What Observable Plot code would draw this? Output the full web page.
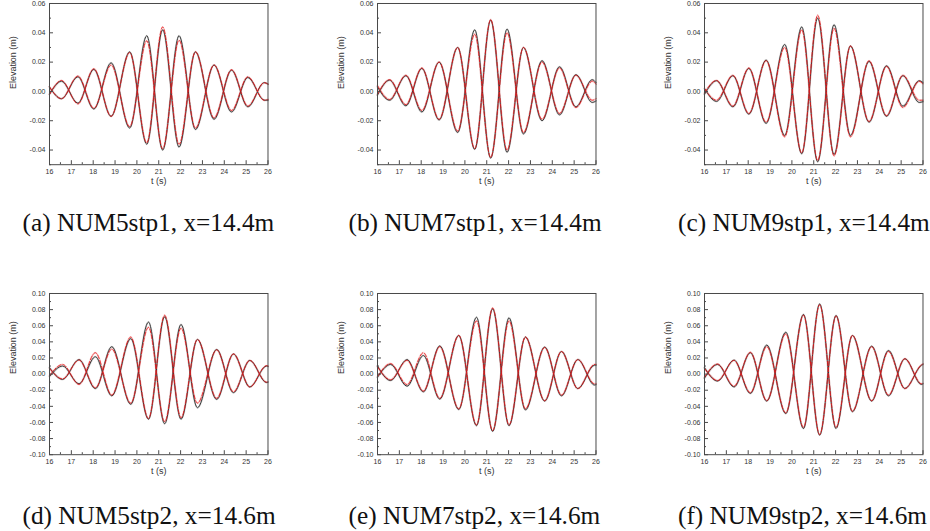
<!DOCTYPE html>
<html><head><meta charset="utf-8">
<script src="https://cdn.jsdelivr.net/npm/d3@7"></script>
<script src="https://cdn.jsdelivr.net/npm/@observablehq/plot@0.6"></script>
<style>
html,body{margin:0;padding:0;background:#fff;}
#root{position:relative;width:930px;height:531px;overflow:hidden;background:#fff;}
.panel{position:absolute;}
#caps{position:absolute;left:0;top:0;}
</style></head><body><div id="root"></div>
<script>
// ---------- data ----------
const tRow1 = [16, 16.55, 17.3, 18.03, 18.82, 19.67, 20.45, 21.18, 21.93, 22.68, 23.53, 24.33, 25.08, 25.83, 26];
const tRow2 = [16, 16.6, 17.35, 18.1, 18.85, 19.72, 20.53, 21.27, 22.02, 22.77, 23.65, 24.42, 25.17, 25.93, 26];

// panel (a)
const aCrestExp = [-0.002, 0.007, -0.008, 0.015, -0.017, 0.027, -0.036, 0.042, -0.038, 0.027, -0.019, 0.0145, -0.0105, 0.006, 0.005];
const aCrestNum = [-0.002, 0.0075, -0.0085, 0.0155, -0.017, 0.0265, -0.035, 0.044, -0.036, 0.027, -0.018, 0.0148, -0.010, 0.006, 0.005];
const aTroughExp = [0.003, -0.005, 0.010, -0.012, 0.0195, -0.025, 0.038, -0.040, 0.038, -0.026, 0.018, -0.014, 0.0095, -0.006, -0.006];
const aTroughNum = [0.003, -0.005, 0.0105, -0.0115, 0.018, -0.024, 0.0345, -0.039, 0.035, -0.025, 0.018, -0.013, 0.010, -0.006, -0.0055];
// panel (b)
const bCrestExp = [-0.0025, 0.0077, -0.0098, 0.0157, -0.0195, 0.030, -0.0395, 0.0486, -0.0415, 0.030, -0.020, 0.0168, -0.0105, 0.008, 0.006];
const bCrestNum = [-0.002, 0.008, -0.009, 0.016, -0.019, 0.030, -0.039, 0.049, -0.040, 0.030, -0.019, 0.016, -0.011, 0.007, 0.005];
const bTroughExp = [0.003, -0.006, 0.0107, -0.014, 0.020, -0.028, 0.042, -0.0455, 0.0425, -0.029, 0.021, -0.016, 0.0114, -0.0075, -0.0065];
const bTroughNum = [0.004, -0.0055, 0.011, -0.013, 0.020, -0.027, 0.039, -0.045, 0.040, -0.028, 0.020, -0.015, 0.011, -0.006, -0.005];
// panel (c)
const cCrestExp = [-0.002, 0.0073, -0.0105, 0.0157, -0.0218, 0.032, -0.0425, 0.050, -0.043, 0.031, -0.021, 0.0175, -0.010, 0.0073, 0.006];
const cCrestNum = [-0.001, 0.0075, -0.010, 0.016, -0.021, 0.030, -0.042, 0.052, -0.044, 0.031, -0.0205, 0.017, -0.011, 0.007, 0.005];
const cTroughExp = [0.002, -0.0068, 0.0107, -0.0155, 0.0214, -0.030, 0.044, -0.048, 0.0455, -0.030, 0.0205, -0.017, 0.0107, -0.0075, -0.007];
const cTroughNum = [0.002, -0.006, 0.011, -0.015, 0.021, -0.031, 0.042, -0.047, 0.043, -0.031, 0.021, -0.0165, 0.011, -0.006, -0.006];
// panel (d)
const dCrestExp = [-0.003, 0.010, -0.012, 0.0215, -0.027, 0.044, -0.056, 0.071, -0.056, 0.043, -0.0314, 0.025, -0.016, 0.010, 0.0095];
const dCrestNum = [-0.002, 0.012, -0.0128, 0.0265, -0.026, 0.046, -0.055, 0.073, -0.054, 0.043, -0.030, 0.025, -0.016, 0.0105, 0.010];
const dTroughExp = [0.008, -0.0066, 0.018, -0.018, 0.034, -0.0375, 0.0645, -0.0615, 0.0615, -0.0417, 0.0306, -0.023, 0.017, -0.0105, -0.010];
const dTroughNum = [0.007, -0.006, 0.0174, -0.017, 0.031, -0.036, 0.058, -0.059, 0.057, -0.036, 0.030, -0.022, 0.017, -0.010, -0.0095];
// panel (e)
const eCrestExp = [-0.004, 0.012, -0.015, 0.023, -0.031, 0.048, -0.064, 0.081, -0.064, 0.046, -0.0335, 0.028, -0.018, 0.011, 0.011];
const eCrestNum = [-0.003, 0.013, -0.013, 0.0265, -0.030, 0.048, -0.063, 0.082, -0.063, 0.046, -0.033, 0.028, -0.018, 0.012, 0.012];
const eTroughExp = [0.010, -0.008, 0.018, -0.022, 0.035, -0.044, 0.0705, -0.071, 0.0698, -0.0445, 0.0335, -0.027, 0.018, -0.0135, -0.013];
const eTroughNum = [0.009, -0.007, 0.017, -0.021, 0.034, -0.043, 0.066, -0.070, 0.066, -0.043, 0.033, -0.026, 0.018, -0.012, -0.012];
// panel (f)
const fCrestExp = [-0.005, 0.012, -0.016, 0.0265, -0.0335, 0.052, -0.0675, 0.087, -0.0675, 0.048, -0.0335, 0.0293, -0.0178, 0.011, 0.012];
const fCrestNum = [-0.004, 0.0125, -0.015, 0.027, -0.033, 0.050, -0.066, 0.086, -0.066, 0.048, -0.033, 0.028, -0.018, 0.0115, 0.0125];
const fTroughExp = [0.008, -0.0087, 0.0174, -0.024, 0.036, -0.049, 0.074, -0.0757, 0.0727, -0.0467, 0.0347, -0.027, 0.019, -0.0128, -0.012];
const fTroughNum = [0.007, -0.008, 0.017, -0.023, 0.034, -0.048, 0.073, -0.075, 0.072, -0.046, 0.034, -0.026, 0.019, -0.012, -0.0115];

const captions = ["(a) NUM5stp1, x=14.4m", "(b) NUM7stp1, x=14.4m", "(c) NUM9stp1, x=14.4m",
                  "(d) NUM5stp2, x=14.6m", "(e) NUM7stp2, x=14.6m", "(f) NUM9stp2, x=14.6m"];
const xDomain = [16, 26];
const xTicks = [16, 17, 18, 19, 20, 21, 22, 23, 24, 25, 26];
const xMinor = [16.5, 17.5, 18.5, 19.5, 20.5, 21.5, 22.5, 23.5, 24.5, 25.5];
const yDomainTop = [-0.05, 0.06];
const yTicksTop = [-0.04, -0.02, 0, 0.02, 0.04, 0.06];
const yMinorTop = [-0.05, -0.03, -0.01, 0.01, 0.03, 0.05];
const yDomainBottom = [-0.10, 0.10];
const yTicksBottom = [-0.10, -0.08, -0.06, -0.04, -0.02, 0, 0.02, 0.04, 0.06, 0.08, 0.10];
const yMinorBottom = [-0.09, -0.07, -0.05, -0.03, -0.01, 0.01, 0.03, 0.05, 0.07, 0.09];
const yLabel = "Elevation (m)";
const xLabel = "t (s)";

// ---------- layout ----------
const frameW = 218.5, frameH = 161.2;
const mL = 48, mR = 8, mT = 6, mB = 28;
const frameLefts = [49.3, 376.7, 704.3];
const frameTops = [3, 292.8];
const capLefts = [22.5, 348.5, 678];
const capBaselines = [230.5, 524];

const panels = [
  {times: tRow1, s: [aCrestExp, aCrestNum, aTroughExp, aTroughNum], dom: yDomainTop, ticks: yTicksTop, minor: yMinorTop, row: 0, col: 0},
  {times: tRow1, s: [bCrestExp, bCrestNum, bTroughExp, bTroughNum], dom: yDomainTop, ticks: yTicksTop, minor: yMinorTop, row: 0, col: 1},
  {times: tRow1, s: [cCrestExp, cCrestNum, cTroughExp, cTroughNum], dom: yDomainTop, ticks: yTicksTop, minor: yMinorTop, row: 0, col: 2},
  {times: tRow2, s: [dCrestExp, dCrestNum, dTroughExp, dTroughNum], dom: yDomainBottom, ticks: yTicksBottom, minor: yMinorBottom, row: 1, col: 0},
  {times: tRow2, s: [eCrestExp, eCrestNum, eTroughExp, eTroughNum], dom: yDomainBottom, ticks: yTicksBottom, minor: yMinorBottom, row: 1, col: 1},
  {times: tRow2, s: [fCrestExp, fCrestNum, fTroughExp, fTroughNum], dom: yDomainBottom, ticks: yTicksBottom, minor: yMinorBottom, row: 1, col: 2},
];

const root = document.getElementById("root");
const axisColor = "#4a4a4a";
const textColor = "#333";

panels.forEach(p => {
  const rowsOf = (vals, key) => vals.map((v, i) => ({t: p.times[i], v, key}));
  const exp = [...rowsOf(p.s[0], "crest"), ...rowsOf(p.s[2], "trough")];
  const num = [...rowsOf(p.s[1], "crest"), ...rowsOf(p.s[3], "trough")];
  const lineOpts = {x: "t", y: "v", z: "key", curve: "monotone-x"};
  const chart = Plot.plot({
    width: mL + frameW + mR,
    height: mT + frameH + mB,
    marginLeft: mL, marginRight: mR, marginTop: mT, marginBottom: mB,
    x: {domain: xDomain},
    y: {domain: p.dom},
    style: {fontFamily: "'Liberation Sans', Arial, sans-serif", fontSize: "7px", color: textColor, background: "transparent", overflow: "visible"},
    marks: [
      Plot.line(exp, {...lineOpts, stroke: "#9a9a9a", strokeWidth: 2, strokeOpacity: 0.4}),
      Plot.line(num, {...lineOpts, stroke: "#f4a0a0", strokeWidth: 2, strokeOpacity: 0.4}),
      Plot.line(exp, {...lineOpts, stroke: "#2a2a2a", strokeWidth: 0.9}),
      Plot.line(num, {...lineOpts, stroke: "#e31a1c", strokeWidth: 0.9, strokeDasharray: "4,2"}),
      Plot.frame({stroke: axisColor, strokeWidth: 1}),
      Plot.tickY(p.ticks, {y: d => d, insetRight: frameW - 4, stroke: axisColor}),
      Plot.tickY(p.minor, {y: d => d, insetRight: frameW - 2, stroke: axisColor}),
      Plot.tickX(xTicks, {x: d => d, insetTop: frameH - 4, stroke: axisColor}),
      Plot.tickX(xMinor, {x: d => d, insetTop: frameH - 2, stroke: axisColor}),
      Plot.axisY(p.ticks, {tickSize: 0, tickPadding: 4, tickFormat: d => d.toFixed(2), label: null, fill: textColor}),
      Plot.axisX(xTicks, {tickSize: 0, tickPadding: 4, tickFormat: d => String(d), label: null, fill: textColor}),
      Plot.text([yLabel], {text: d => d, frameAnchor: "left", dx: -36, dy: p.row === 0 ? 5 : 0, rotate: -90, fontSize: 9, fill: textColor}),
      Plot.text([xLabel], {text: d => d, frameAnchor: "bottom", dy: 19, fontSize: 9, fill: textColor}),
    ]
  });
  chart.classList.add("panel");
  chart.style.left = (frameLefts[p.col] - mL) + "px";
  chart.style.top = (frameTops[p.row] - mT) + "px";
  root.appendChild(chart);
});

// captions
const caps = d3.select(root).append("svg").attr("id", "caps").attr("width", 930).attr("height", 531);
caps.selectAll("text").data(captions).join("text")
  .attr("x", (d, i) => capLefts[i % 3])
  .attr("y", (d, i) => capBaselines[Math.floor(i / 3)])
  .attr("font-family", "'Liberation Serif', 'Times New Roman', serif")
  .attr("font-size", 25.3)
  .attr("fill", "#111")
  .text(d => d);
</script>
</body></html>
